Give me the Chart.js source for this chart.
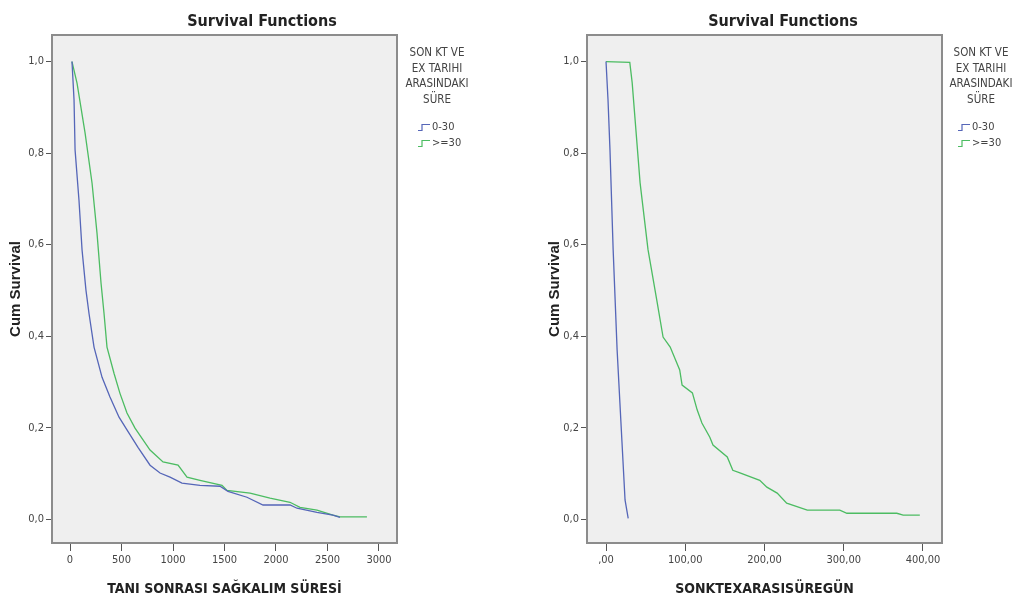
<!DOCTYPE html>
<html lang="tr">
<head>
<meta charset="UTF-8">
<title>Survival Functions</title>
<script src="https://cdn.jsdelivr.net/npm/chart.js"></script>
<style>
  body {
    margin: 0;
    width: 1014px;
    height: 603px;
    background: #fff;
    font-family: 'Liberation Sans Narrow', 'DejaVu Sans Condensed', 'Liberation Sans', Arial, sans-serif;
    position: relative;
    overflow: hidden;
  }
  canvas { position: absolute; top: 0; }
  .title {
    position: absolute;
    top: 11px;
    font-size: 16px;
    font-weight: bold;
    color: #222;
    transform: translateX(-50%);
    white-space: nowrap;
  }
  .legend-head {
    position: absolute;
    top: 45px;
    font-size: 11.5px;
    line-height: 15.7px;
    color: #444;
    text-align: center;
    transform: translateX(-50%);
    white-space: nowrap;
  }
  .legend-item {
    position: absolute;
    font-size: 11px;
    color: #444;
    white-space: nowrap;
    line-height: 14px;
  }
  .legend-item svg { vertical-align: -1px; margin-right: 2px; }
</style>
</head>
<body>

<canvas id="leftChart" width="507" height="603" style="left:0"></canvas>
<canvas id="rightChart" width="507" height="603" style="left:507px"></canvas>

<div class="title" style="left:262px">Survival Functions</div>
<div class="title" style="left:783px">Survival Functions</div>

<div class="legend-head" style="left:437px">SON KT VE<br>EX TARIHI<br>ARASINDAKI<br>SÜRE</div>
<div class="legend-head" style="left:981px">SON KT VE<br>EX TARIHI<br>ARASINDAKI<br>SÜRE</div>
<div id="legends"></div>

<script>
    // gruplar
    const groupLabels = ['0-30', '>=30'];
    const groupColors = ['#5566b8', '#4cbc62'];

    // eksen işaretleri
    const yTicks = [0, 0.2, 0.4, 0.6, 0.8, 1.0];
    const yTickLabels = ['0,0', '0,2', '0,4', '0,6', '0,8', '1,0'];
    const leftXTicks = [0, 500, 1000, 1500, 2000, 2500, 3000];
    const leftXTickLabels = ['0', '500', '1000', '1500', '2000', '2500', '3000'];
    const rightXTicks = [0, 100, 200, 300, 400];
    const rightXTickLabels = [',00', '100,00', '200,00', '300,00', '400,00'];

    // sol grafik: TANI SONRASI SAĞKALIM SÜRESİ
    const leftTime030 = [19, 39, 49, 87, 117, 155, 184, 233, 311, 388, 476, 553, 660, 777, 874, 971, 1087, 1262, 1456, 1534, 1718, 1874, 2136, 2204, 2398, 2553, 2621];
    const leftSurv030 = [1.0, 0.916, 0.807, 0.697, 0.588, 0.50, 0.450, 0.376, 0.310, 0.267, 0.223, 0.195, 0.157, 0.118, 0.101, 0.092, 0.079, 0.074, 0.072, 0.061, 0.048, 0.031, 0.031, 0.024, 0.015, 0.009, 0.004];
    const leftTime30 = [19, 68, 146, 214, 262, 301, 330, 359, 427, 485, 553, 631, 777, 903, 1049, 1136, 1262, 1476, 1524, 1748, 1942, 2136, 2233, 2398, 2553, 2621, 2883];
    const leftSurv30 = [1.0, 0.953, 0.844, 0.734, 0.625, 0.516, 0.450, 0.376, 0.319, 0.275, 0.232, 0.199, 0.151, 0.125, 0.118, 0.092, 0.085, 0.074, 0.063, 0.057, 0.046, 0.037, 0.026, 0.020, 0.009, 0.005, 0.005];

    // sağ grafik: SONKTEXARASISÜREGÜN
    const rightTime030 = [0, 2.5, 5, 9, 14, 20, 24, 28];
    const rightSurv030 = [1.0, 0.917, 0.807, 0.589, 0.370, 0.173, 0.042, 0.002];
    const rightTime30 = [0, 30, 33, 43, 53, 64, 72, 81, 93, 96, 109, 115, 121, 131, 135, 153, 160, 169, 194, 203, 216, 228, 254, 295, 304, 367, 375, 396];
    const rightSurv30 = [1.0, 0.998, 0.954, 0.735, 0.589, 0.479, 0.398, 0.376, 0.326, 0.293, 0.276, 0.239, 0.210, 0.179, 0.162, 0.136, 0.107, 0.101, 0.085, 0.070, 0.057, 0.035, 0.020, 0.020, 0.013, 0.013, 0.009, 0.009];

    const fontStack = "'Liberation Sans Narrow', 'DejaVu Sans Condensed', 'Liberation Sans', Arial, sans-serif";

    // plot alanı arka planı ve çerçevesi
    const plotFrame = {
        id: 'plotFrame',
        beforeDraw(chart) {
            const a = chart.chartArea;
            const ctx = chart.ctx;
            ctx.save();
            ctx.fillStyle = '#efefef';
            ctx.fillRect(a.left, a.top, a.right - a.left, a.bottom - a.top);
            ctx.restore();
        },
        afterDraw(chart) {
            const a = chart.chartArea;
            const ctx = chart.ctx;
            ctx.save();
            ctx.strokeStyle = '#8c8c8c';
            ctx.lineWidth = 2;
            ctx.strokeRect(a.left, a.top, a.right - a.left, a.bottom - a.top);
            ctx.restore();
        }
    };

    function toPoints(times, surv) {
        return times.map((t, i) => ({ x: t, y: surv[i] }));
    }

    function makeChart(id, opt) {
        const ctx = document.getElementById(id).getContext('2d');
        return new Chart(ctx, {
            type: 'line',
            data: {
                datasets: opt.series.map((s, i) => ({
                    label: groupLabels[i],
                    data: toPoints(s[0], s[1]),
                    borderColor: groupColors[i],
                    borderWidth: 1.3,
                    pointRadius: 0,
                    fill: false,
                    tension: 0
                }))
            },
            options: {
                responsive: false,
                animation: false,
                devicePixelRatio: 1,
                layout: { padding: opt.padding },
                plugins: {
                    legend: { display: false },
                    title: { display: false },
                    tooltip: { enabled: false }
                },
                scales: {
                    x: {
                        type: 'linear',
                        min: opt.xMin,
                        max: opt.xMax,
                        afterBuildTicks: axis => { axis.ticks = opt.xTicks.map(v => ({ value: v })); },
                        afterFit: axis => { axis.height = 60; },
                        ticks: {
                            autoSkip: false,
                            maxRotation: 0,
                            padding: 3,
                            color: '#444',
                            font: { family: fontStack, size: 11 },
                            callback: (v, i) => opt.xTickLabels[i]
                        },
                        grid: { drawOnChartArea: false, tickLength: 8, color: '#555' },
                        border: { display: false },
                        title: {
                            display: true,
                            text: opt.xTitle,
                            color: '#222',
                            font: { family: fontStack, size: 14, weight: 'bold' },
                            padding: { top: 0, bottom: 5 }
                        }
                    },
                    y: {
                        type: 'linear',
                        min: -0.052,
                        max: 1.058,
                        afterBuildTicks: axis => { axis.ticks = yTicks.map(v => ({ value: v })); },
                        afterFit: axis => { axis.width = opt.yWidth; },
                        ticks: {
                            autoSkip: false,
                            padding: 2,
                            color: '#444',
                            font: { family: fontStack, size: 11 },
                            callback: (v, i) => yTickLabels[i]
                        },
                        grid: { drawOnChartArea: false, tickLength: 6, color: '#555' },
                        border: { display: false },
                        title: {
                            display: true,
                            text: 'Cum Survival',
                            color: '#222',
                            font: { family: 'Liberation Sans, Arial, sans-serif', size: 15, weight: 'bold' },
                            padding: { top: opt.yTitlePad, bottom: 0 }
                        }
                    }
                }
            },
            plugins: [plotFrame]
        });
    }

    makeChart('leftChart', {
        series: [[leftTime030, leftSurv030], [leftTime30, leftSurv30]],
        xMin: -175, xMax: 3175,
        xTicks: leftXTicks, xTickLabels: leftXTickLabels,
        xTitle: 'TANI SONRASI SAĞKALIM SÜRESİ',
        padding: { left: 0, top: 35, right: 110, bottom: 0 },
        yWidth: 52, yTitlePad: 7
    });

    makeChart('rightChart', {
        series: [[rightTime030, rightSurv030], [rightTime30, rightSurv30]],
        xMin: -24, xMax: 424,
        xTicks: rightXTicks, xTickLabels: rightXTickLabels,
        xTitle: 'SONKTEXARASISÜREGÜN',
        padding: { left: 32, top: 35, right: 72, bottom: 0 },
        yWidth: 48, yTitlePad: 7
    });

    // lejant öğeleri
    const legendSpots = [{ icon: 418, y: 120 }, { icon: 958, y: 120 }];
    const legendBox = document.getElementById('legends');
    legendSpots.forEach(spot => {
        groupLabels.forEach((label, i) => {
            const div = document.createElement('div');
            div.className = 'legend-item';
            div.style.left = spot.icon + 'px';
            div.style.top = (spot.y + i * 16) + 'px';
            div.innerHTML = '<svg width="12" height="7"><path d="M0 6.5 H4 V0.5 H12" fill="none" stroke="' +
                groupColors[i] + '" stroke-width="1.2"/></svg>';
            div.appendChild(document.createTextNode(label));
            legendBox.appendChild(div);
        });
    });
</script>

</body>
</html>
